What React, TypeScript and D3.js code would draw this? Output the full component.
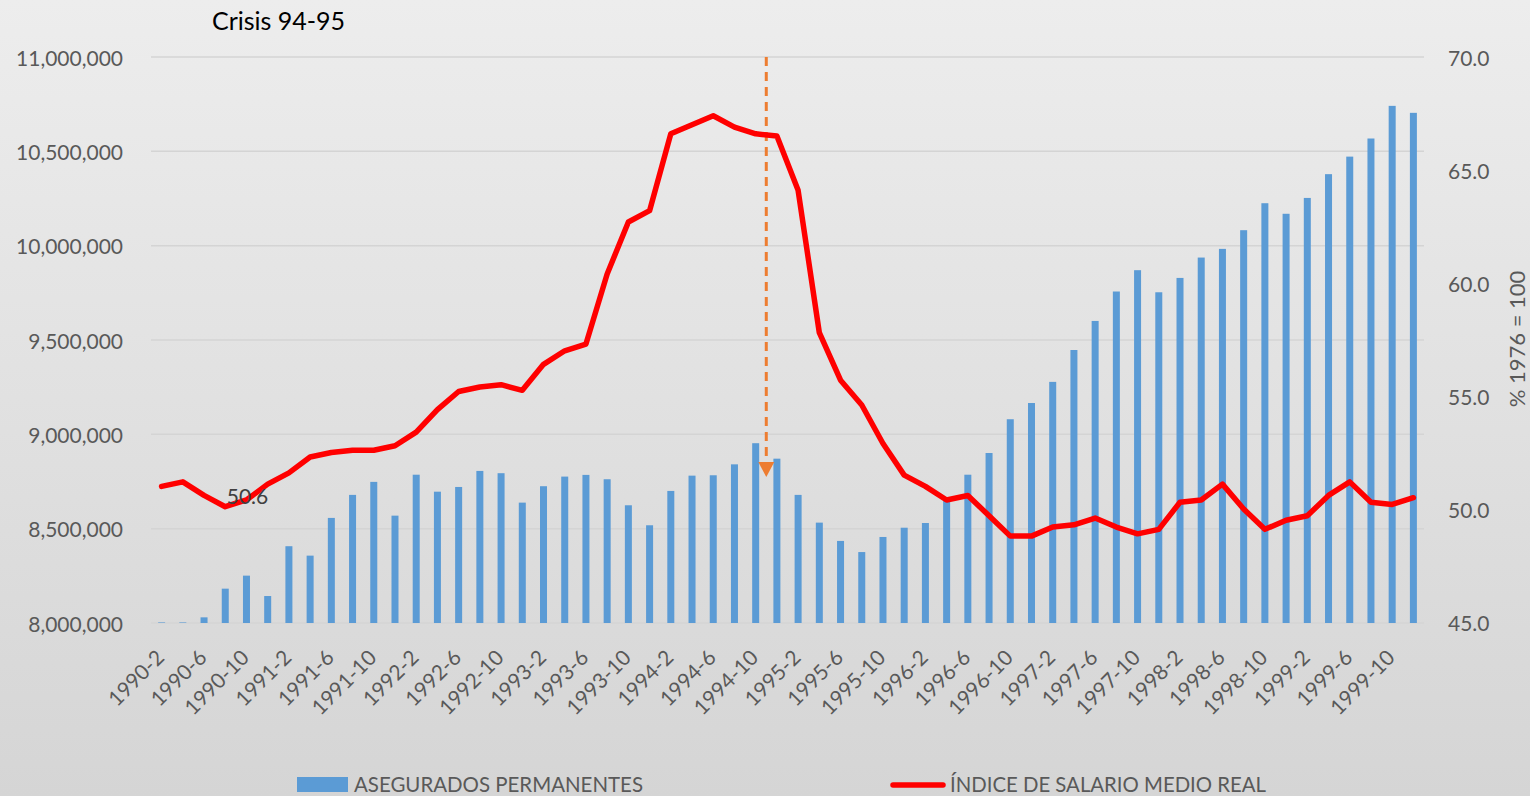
import React, { useLayoutEffect } from "react";
import * as d3 from "d3";

const years = [1990, 1991, 1992, 1993, 1994, 1995, 1996, 1997, 1998, 1999];
const months = [2, 4, 6, 8, 10, 12];
const categories: string[] = years.flatMap((y) => months.map((m) => `${y}-${m}`));

const asegurados: number[] = [
  8003000, 8003000, 8030000, 8182000, 8251000, 8143000,
  8407000, 8357000, 8557000, 8679000, 8748000, 8569000,
  8786000, 8696000, 8721000, 8806000, 8794000, 8638000,
  8725000, 8776000, 8785000, 8762000, 8624000, 8518000,
  8700000, 8781000, 8783000, 8841000, 8953000, 8871000,
  8679000, 8532000, 8435000, 8376000, 8456000, 8505000,
  8530000, 8652000, 8786000, 8901000, 9080000, 9166000,
  9278000, 9447000, 9601000, 9757000, 9870000, 9753000,
  9829000, 9937000, 9983000, 10082000, 10225000, 10169000,
  10253000, 10379000, 10472000, 10568000, 10741000, 10704000,
];

const salario: number[] = [
  51.0, 51.2, 50.6, 50.1, 50.4, 51.1,
  51.6, 52.3, 52.5, 52.6, 52.6, 52.8,
  53.4, 54.4, 55.2, 55.4, 55.5, 55.25,
  56.4, 57.0, 57.3, 60.4, 62.7, 63.2,
  66.6, 67.0, 67.4, 66.9, 66.6, 66.5,
  64.1, 57.8, 55.7, 54.6, 52.9, 51.5,
  51.0, 50.4, 50.6, 49.7, 48.8, 48.8,
  49.2, 49.3, 49.6, 49.2, 48.9, 49.1,
  50.3, 50.4, 51.1, 50.0, 49.1, 49.5,
  49.7, 50.6, 51.2, 50.3, 50.2, 50.5,
];

const leftTicks = [8000000, 8500000, 9000000, 9500000, 10000000, 10500000, 11000000];
const rightTicks = [45, 50, 55, 60, 65, 70];

const title = "Crisis 94-95";
const rightAxisTitle = "% 1976 = 100";
const barLegend = "ASEGURADOS PERMANENTES";
const lineLegend = "ÍNDICE DE SALARIO MEDIO REAL";
const dataLabelIndex = 4;
const dataLabelText = "50.6";
const arrowAfterIndex = 28; // crisis marker between 1994-10 and 1994-12

const W = 1530;
const H = 796;
const FONT = "Lato, 'Open Sans', sans-serif";

export default function App() {
  useLayoutEffect(() => {
    document.body.style.margin = "0";
    document.body.style.overflow = "hidden";
  }, []);

  const x0 = 151;
  const x1 = 1424;
  const yTop = 57;
  const yBottom = 623;

  const x = d3
    .scaleBand<string>()
    .domain(categories)
    .range([x0, x1])
    .paddingInner(0.67)
    .paddingOuter(0.335);
  const bw = x.bandwidth();
  const cx = (i: number) => (x(categories[i]) as number) + bw / 2;

  const yL = d3.scaleLinear().domain([8000000, 11000000]).range([yBottom, yTop]);
  const yR = d3.scaleLinear().domain([45, 70]).range([yBottom - 1, yTop]);

  const fmt = d3.format(",");
  const fmtR = d3.format(".1f");

  const line = d3
    .line<number>()
    .x((_, i) => cx(i))
    .y((d) => yR(d));

  const arrowX = (cx(arrowAfterIndex) + cx(arrowAfterIndex + 1)) / 2;
  const arrowTipY = 477;
  const arrowHeadH = 15;
  const arrowHeadW = 16;

  return (
    <svg width={W} height={H} style={{ display: "block" }} fontFamily={FONT}>
      <defs>
        <linearGradient id="bg" x1="0" y1="0" x2="0" y2="1">
          <stop offset="0" stopColor="#ededed" />
          <stop offset="1" stopColor="#d5d5d5" />
        </linearGradient>
      </defs>
      <rect x={0} y={0} width={W} height={H} fill="url(#bg)" />

      {/* gridlines */}
      {leftTicks.map((t) => (
        <line key={t} x1={x0} x2={x1} y1={yL(t)} y2={yL(t)} stroke="#d4d4d4" strokeWidth={1.5} />
      ))}

      {/* bars */}
      {asegurados.map((v, i) => (
        <rect
          key={categories[i]}
          x={x(categories[i])}
          y={yL(v)}
          width={bw}
          height={yL(8000000) - yL(v)}
          fill="#5b9bd5"
        />
      ))}

      {/* crisis arrow */}
      <line
        x1={arrowX}
        x2={arrowX}
        y1={yTop}
        y2={arrowTipY - arrowHeadH}
        stroke="#ed7d31"
        strokeWidth={3}
        strokeDasharray="9,6"
      />
      <path
        d={`M${arrowX - arrowHeadW / 2},${arrowTipY - arrowHeadH} L${arrowX + arrowHeadW / 2},${arrowTipY - arrowHeadH} L${arrowX},${arrowTipY} Z`}
        fill="#ed7d31"
      />

      {/* salary line */}
      <path
        d={line(salario) || ""}
        fill="none"
        stroke="#ff0000"
        strokeWidth={5.5}
        strokeLinejoin="round"
        strokeLinecap="round"
      />

      {/* data label */}
      <text
        x={cx(dataLabelIndex) + 1}
        y={yR(salario[dataLabelIndex]) - 4}
        textAnchor="middle"
        dominantBaseline="central"
        fontSize={21}
        fill="#404040"
      >
        {dataLabelText}
      </text>

      {/* left axis labels */}
      {leftTicks.map((t) => (
        <text
          key={t}
          x={123}
          y={yL(t)}
          textAnchor="end"
          dominantBaseline="central"
          fontSize={21}
          fill="#595959"
        >
          {fmt(t)}
        </text>
      ))}

      {/* right axis labels */}
      {rightTicks.map((t) => (
        <text
          key={t}
          x={1448}
          y={yR(t)}
          textAnchor="start"
          dominantBaseline="central"
          fontSize={21}
          fill="#595959"
        >
          {fmtR(t)}
        </text>
      ))}

      {/* x axis labels */}
      {categories.map((c, i) =>
        i % 2 === 0 ? (
          <text
            key={c}
            transform={`translate(${cx(i) + 4},${659}) rotate(-45)`}
            textAnchor="end"
            fontSize={21}
            fill="#595959"
          >
            {c}
          </text>
        ) : null
      )}

      {/* right axis title */}
      <text
        transform={`translate(${1516},${339}) rotate(-90)`}
        textAnchor="middle"
        dominantBaseline="central"
        fontSize={22}
        fill="#595959"
      >
        {rightAxisTitle}
      </text>

      {/* title */}
      <text x={212} y={30} fontSize={25} fill="#000000">
        {title}
      </text>

      {/* legend */}
      <rect x={297} y={777} width={51} height={15} fill="#5b9bd5" />
      <text x={354} y={792} fontSize={21} fill="#595959" textLength={289} lengthAdjust="spacingAndGlyphs">
        {barLegend}
      </text>
      <line x1={893} x2={943} y1={785} y2={785} stroke="#ff0000" strokeWidth={5.5} strokeLinecap="round" />
      <text x={950} y={792} fontSize={21} fill="#595959" textLength={316} lengthAdjust="spacingAndGlyphs">
        {lineLegend}
      </text>
    </svg>
  );
}
